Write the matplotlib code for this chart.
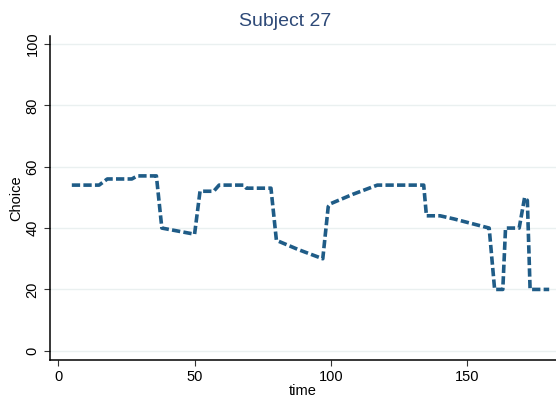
import matplotlib
matplotlib.use("Agg")
import matplotlib.pyplot as plt

# breakpoints
time = [5, 15, 18, 27, 29, 36, 38, 50, 52, 57, 59, 68, 69, 78, 80, 88, 97, 99, 100,
        108, 117, 134, 135, 140, 145, 158, 160, 163, 164, 169, 171, 172, 173, 180]
choice = [54, 54, 56, 56, 57, 57, 40, 38, 52, 52, 54, 54, 53, 53, 36, 33, 30, 47, 48,
          51, 54, 54, 44, 44, 43, 40, 20, 20, 40, 40, 50, 49, 20, 20]

xticks = [0, 50, 100, 150]
yticks = [0, 20, 40, 60, 80, 100]

plt.rcParams["font.family"] = ["Liberation Sans", "DejaVu Sans"]

fig = plt.figure(figsize=(5.56, 4.05), dpi=100)
ax = fig.add_axes([50 / 556, 45 / 405, 506 / 556, 324 / 405])

ax.plot(time, choice, color="#1f5c87", linewidth=2.6,
        linestyle=(0, (2.3, 0.9)), solid_joinstyle="miter")

ax.set_xlim(-3, 182.5)
ax.set_ylim(-3, 102.6)
ax.set_xticks(xticks)
ax.set_yticks(yticks)
ax.grid(axis="y", color="#eaf0f0", linewidth=1)
ax.set_axisbelow(True)

for s in ["top", "right"]:
    ax.spines[s].set_visible(False)
for s in ["left", "bottom"]:
    ax.spines[s].set_linewidth(1.1)
    ax.spines[s].set_color("black")

ax.tick_params(axis="both", direction="out", length=4, width=0.8,
               color="#333333", labelsize=10.5)
plt.setp(ax.get_yticklabels(), rotation=90, va="center")

ax.set_xlabel("time", fontsize=10.5, labelpad=0)
ax.set_ylabel("Choice", fontsize=10.5, labelpad=2)
ax.set_title("Subject 27", fontsize=14, color="#2e4a78", pad=7, x=0.464)

fig.savefig("out.png", dpi=100)
